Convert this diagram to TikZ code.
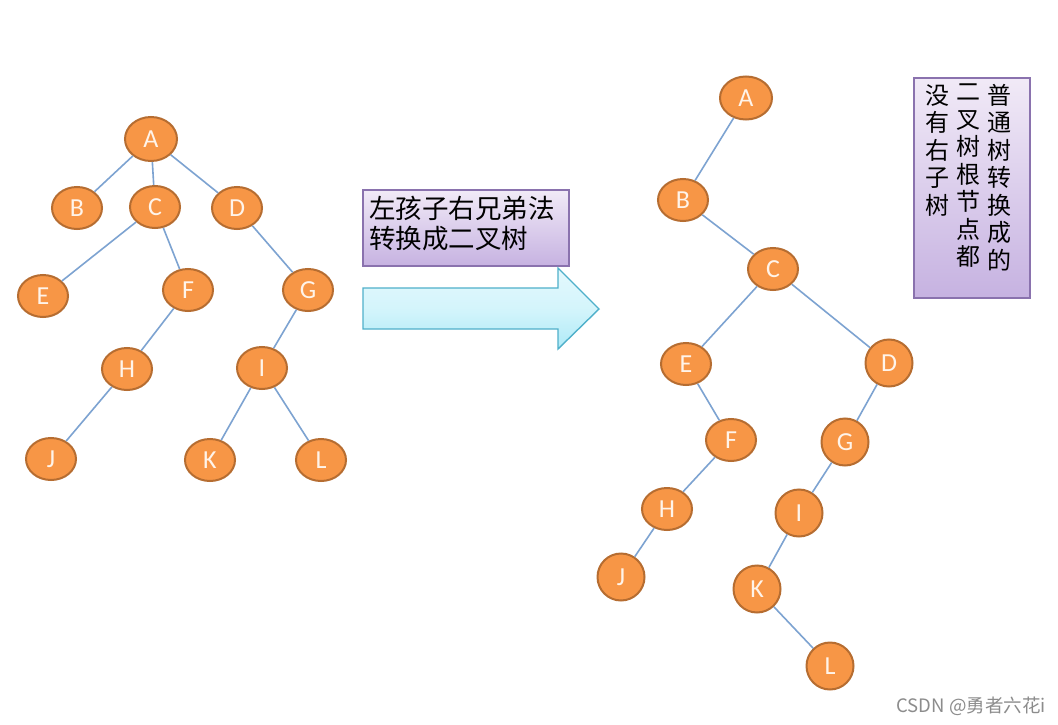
\documentclass[tikz,border=0pt]{standalone}
\usepackage{fontspec}
\setmainfont{Carlito}
\newfontfamily\cjk{Noto Sans CJK SC}
\usetikzlibrary{shapes.geometric}
\definecolor{nodefill}{HTML}{F79646}
\definecolor{nodeedge}{HTML}{B66D31}
\definecolor{nodetext}{HTML}{FFF4EA}
\definecolor{edgeblue}{HTML}{7DA3D1}
\definecolor{boxtop}{HTML}{F1EAF7}
\definecolor{boxbot}{HTML}{C6B2E1}
\definecolor{boxedge}{HTML}{8A72AE}
\definecolor{arrtop}{HTML}{E4F9FD}
\definecolor{arrbot}{HTML}{AEEAF7}
\definecolor{arredge}{HTML}{4FB0CA}
\definecolor{wm}{HTML}{8C8C8C}
\begin{document}
\begin{tikzpicture}[x=1pt,y=-1pt,
  tnode/.style={ellipse, draw=nodeedge, fill=nodefill, line width=2pt,
    minimum width=50pt, minimum height=42pt, inner sep=0pt, text=nodetext,
    font=\fontsize{26}{26}\selectfont},
  rnode/.style={tnode, minimum width=47pt, minimum height=47pt},
  link/.style={draw=edgeblue, line width=1.6pt},
  notebox/.style={draw=boxedge, line width=1.2pt, top color=boxtop, bottom color=boxbot},
  cjktext/.style={inner sep=0pt, text=black, font=\cjk\fontsize{24}{27.5}\selectfont}
]
\useasboundingbox (0,0) rectangle (1058,725);
\fill[white] (0,0) rectangle (1058,725);

% ---------- left tree ----------
\node[tnode, minimum width=52pt, minimum height=44pt] (lA) at (151,139) {A};
\node[tnode] (lB) at (77,208) {B};
\node[tnode] (lC) at (155,207) {C};
\node[tnode] (lD) at (237,208) {D};
\node[tnode] (lE) at (43,296) {E};
\node[tnode] (lF) at (188,290) {F};
\node[tnode] (lG) at (308,290) {G};
\node[tnode] (lH) at (127,369) {H};
\node[tnode] (lI) at (262,368) {I};
\node[tnode] (lJ) at (51,459) {J};
\node[tnode] (lK) at (210,460) {K};
\node[tnode] (lL) at (321,460) {L};

\draw[link] (lA) -- (lB);
\draw[link] (lA) -- (lC);
\draw[link] (lA) -- (lD);
\draw[link] (lC) -- (lE);
\draw[link] (lC) -- (lF);
\draw[link] (lD) -- (lG);
\draw[link] (lF) -- (lH);
\draw[link] (lG) -- (lI);
\draw[link] (lH) -- (lJ);
\draw[link] (lI) -- (lK);
\draw[link] (lI) -- (lL);

% ---------- label box and arrow ----------
\node[notebox, minimum width=206pt, minimum height=76pt, inner sep=0pt] (lbl) at (466,228) {};
\node[cjktext, anchor=north west, align=left, font=\cjk\fontsize{26.5}{30}\selectfont] (lbltext) at (369,196) {左孩子右兄弟法\\转换成二叉树};

\coordinate (a1) at (363,288);
\coordinate (a2) at (558,288);
\coordinate (a3) at (558,268);
\coordinate (a4) at (599,309);
\coordinate (a5) at (558,349);
\coordinate (a6) at (558,329);
\coordinate (a7) at (363,329);
\shade[top color=arrtop, bottom color=arrbot, middle color=arrtop!70!arrbot] (a1) -- (a2) -- (a3) -- (a4) -- (a5) -- (a6) -- (a7) -- cycle;
\draw[draw=arredge, line width=1.4pt, line join=miter] (a1) -- (a2) -- (a3) -- (a4) -- (a5) -- (a6) -- (a7) -- cycle;

% ---------- right tree ----------
\node[tnode, minimum width=52pt, minimum height=43pt] (rA) at (746,98) {A};
\node[tnode] (rB) at (683,200) {B};
\node[tnode] (rC) at (773,269) {C};
\node[tnode] (rE) at (686,364) {E};
\node[rnode] (rD) at (889,363) {D};
\node[tnode] (rF) at (731,440) {F};
\node[rnode] (rG) at (845,442) {G};
\node[tnode] (rH) at (667,509) {H};
\node[rnode] (rI) at (799,513) {I};
\node[rnode] (rJ) at (621,577) {J};
\node[rnode] (rK) at (757,589) {K};
\node[rnode] (rL) at (830,666) {L};

\draw[link] (rA) -- (rB);
\draw[link] (rB) -- (rC);
\draw[link] (rC) -- (rE);
\draw[link] (rC) -- (rD);
\draw[link] (rE) -- (rF);
\draw[link] (rF) -- (rH);
\draw[link] (rH) -- (rJ);
\draw[link] (rD) -- (rG);
\draw[link] (rG) -- (rI);
\draw[link] (rI) -- (rK);
\draw[link] (rK) -- (rL);

% ---------- vertical note ----------
\node[notebox, minimum width=116pt, minimum height=220pt, inner sep=0pt] (note) at (972,188) {};
\node[cjktext, anchor=north, align=center] (col1) at (999,84) {普\\通\\树\\转\\换\\成\\的};
\node[cjktext, anchor=north, align=center] (col2) at (968,84) {二\\叉\\树\\根\\节\\点\\都};
\node[cjktext, anchor=north, align=center] (col3) at (937,84) {没\\有\\右\\子\\树};

% ---------- watermark ----------
\node[anchor=east, inner sep=0pt, text=wm, font=\cjk\fontsize{18.5}{18.5}\selectfont] (wmark) at (1046,706) {CSDN @勇者六花i};
\end{tikzpicture}
\end{document}
